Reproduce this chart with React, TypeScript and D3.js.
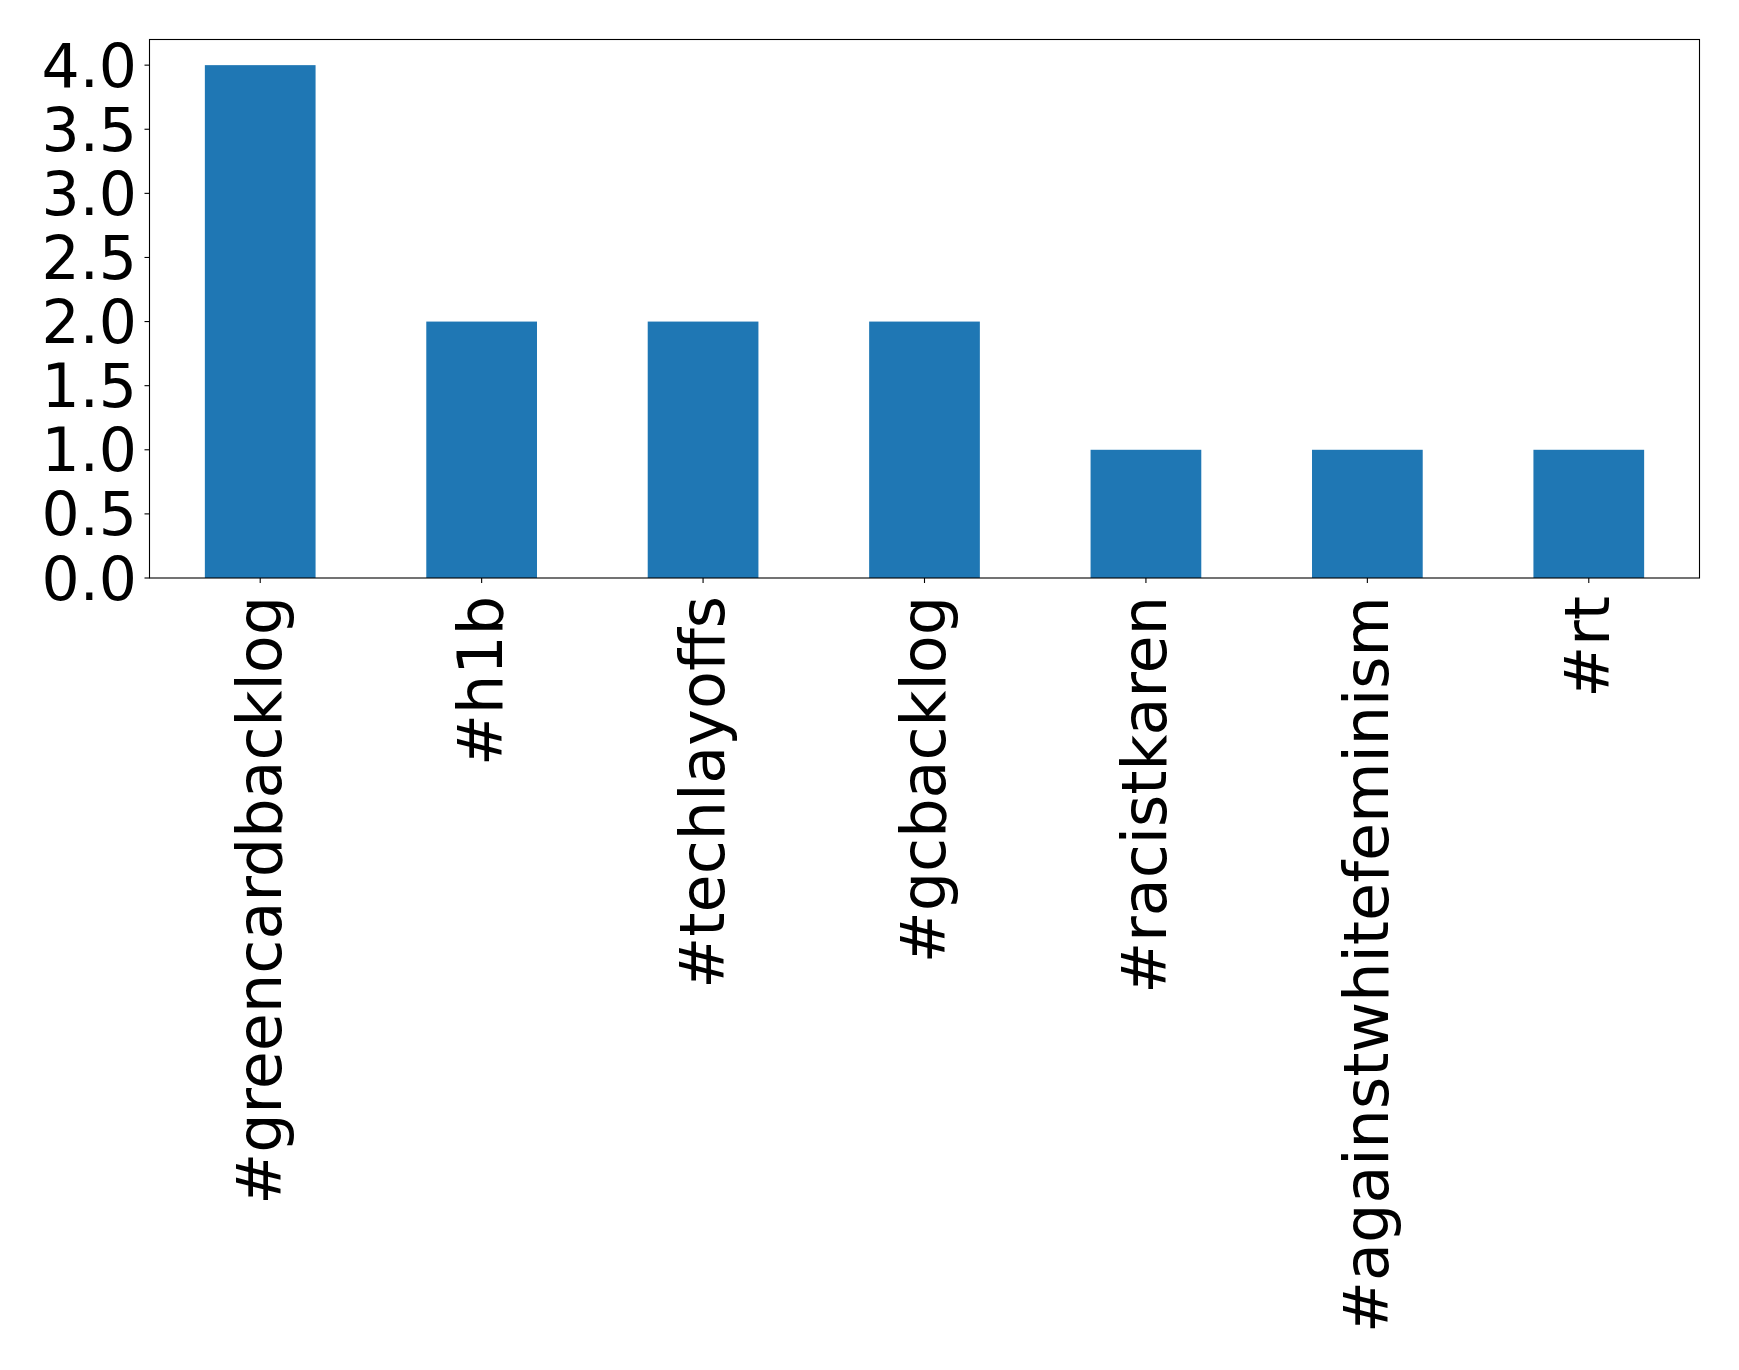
import React from "react";
import * as d3 from "d3";

const categories = ["#greencardbacklog", "#h1b", "#techlayoffs", "#gcbacklog", "#racistkaren", "#againstwhitefeminism", "#rt"];
const counts = [4, 2, 2, 2, 1, 1, 1];
const yTicks = [0, 0.5, 1, 1.5, 2, 2.5, 3, 3.5, 4];

const W = 1739, H = 1370;
const left = 149.5, right = 1699.5, top = 39.5, bottom = 578;
const FONT = "DejaVu Sans";

export default function App() {
  const x = d3.scaleBand<string>().domain(categories).range([left, right]).paddingInner(0.5).paddingOuter(0.25);
  const y = d3.scaleLinear().domain([0, 4.2]).range([bottom, top]);
  return (
    <svg width={W} height={H} style={{ position: "absolute", left: 0, top: 0, background: "#fff" }}>
      {categories.map((c, i) => (
        <rect key={c} x={x(c)} y={y(counts[i])} width={x.bandwidth()} height={y(0) - y(counts[i])} fill="#1f77b4" />
      ))}
      <rect x={left} y={top} width={right - left} height={bottom - top} fill="none" stroke="#000" strokeWidth={1.1} />
      {yTicks.map((t) => (
        <g key={t}>
          <line x1={left - 5} x2={left} y1={y(t)} y2={y(t)} stroke="#000" strokeWidth={1.1} />
          <text x={137} y={y(t)} dy="0.36em" textAnchor="end" fontFamily={FONT} fontSize={60} fill="#000">
            {d3.format(".1f")(t)}
          </text>
        </g>
      ))}
      {categories.map((c) => {
        const cx = (x(c) as number) + x.bandwidth() / 2;
        return (
          <g key={c}>
            <line x1={cx} x2={cx} y1={bottom} y2={bottom + 5} stroke="#000" strokeWidth={1.1} />
            <text
              transform={`translate(${cx + 20.5},${596}) rotate(-90)`}
              textAnchor="end"
              fontFamily={FONT}
              fontSize={62}
              fill="#000"
            >
              {c}
            </text>
          </g>
        );
      })}
    </svg>
  );
}
